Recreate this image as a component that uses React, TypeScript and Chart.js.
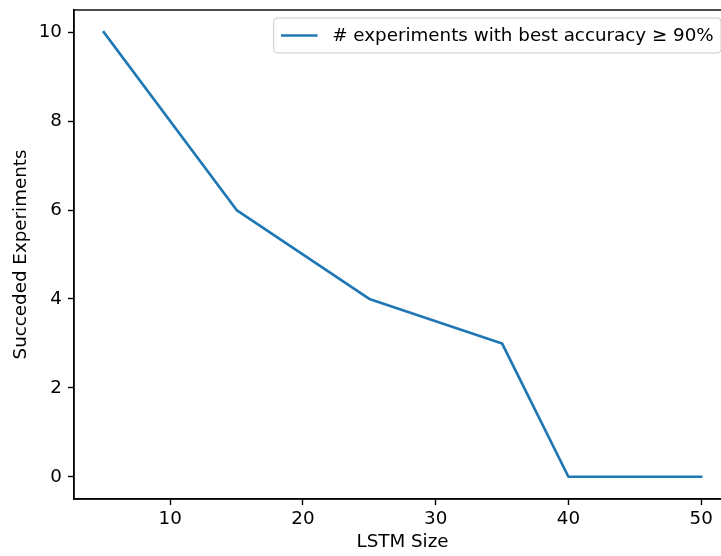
import React, { useEffect, useRef } from "react";
import { Chart, registerables } from "chart.js";

Chart.register(...registerables);

// ---- data ----
const lstmSizes = [5, 15, 25, 35, 40, 50];
const succeeded = [10, 6, 4, 3, 0, 0];
const xTickValues = [10, 20, 30, 40, 50];
const yTickValues = [0, 2, 4, 6, 8, 10];
const seriesLabel = "# experiments with best accuracy \u2265 90%";
const xTitle = "LSTM Size";
const yTitle = "Succeded Experiments";

// ---- style ----
const FONT = "'DejaVu Sans', sans-serif";
const FS = 18.3;
const W = 760;
const H = 556;
const LEFT_W = 74;
const BOTTOM_H = 57;
const PLOT_TOP = 10;
const PLOT_RIGHT = 731;
const LINE_COLOR = "#1f77b4";

const framePlugin = {
  id: "mplFrame",
  afterDraw(chart: any) {
    const { ctx, chartArea: ca } = chart;
    ctx.save();
    ctx.strokeStyle = "#000";
    ctx.lineWidth = 1.4;
    ctx.strokeRect(ca.left, ca.top, ca.right - ca.left, ca.bottom - ca.top);

    // legend (matplotlib style, upper right)
    ctx.font = `${FS}px ${FONT}`;
    const label = chart.data.datasets[0].label as string;
    const tw = ctx.measureText(label).width;
    const pad = 0.4 * FS;
    const handle = 2 * FS;
    const gap = 0.8 * FS;
    const boxW = pad + handle + gap + tw + pad;
    const boxH = 35;
    const right = ca.right - 10;
    const left = right - boxW;
    const top = ca.top + 8;
    const r = 3.6;
    ctx.beginPath();
    ctx.moveTo(left + r, top);
    ctx.lineTo(left + boxW - r, top);
    ctx.arcTo(left + boxW, top, left + boxW, top + r, r);
    ctx.lineTo(left + boxW, top + boxH - r);
    ctx.arcTo(left + boxW, top + boxH, left + boxW - r, top + boxH, r);
    ctx.lineTo(left + r, top + boxH);
    ctx.arcTo(left, top + boxH, left, top + boxH - r, r);
    ctx.lineTo(left, top + r);
    ctx.arcTo(left, top, left + r, top, r);
    ctx.closePath();
    ctx.fillStyle = "rgba(255,255,255,0.8)";
    ctx.fill();
    ctx.strokeStyle = "#cccccc";
    ctx.lineWidth = 1;
    ctx.stroke();

    const cy = top + boxH / 2;
    ctx.beginPath();
    ctx.moveTo(left + pad, cy);
    ctx.lineTo(left + pad + handle, cy);
    ctx.strokeStyle = LINE_COLOR;
    ctx.lineWidth = 2.7;
    ctx.stroke();

    ctx.fillStyle = "#000";
    ctx.textBaseline = "middle";
    ctx.textAlign = "left";
    ctx.fillText(label, left + pad + handle + gap, cy + 1);
    ctx.restore();
  },
};

export default function App() {
  const canvasRef = useRef<HTMLCanvasElement | null>(null);

  useEffect(() => {
    document.body.style.margin = "0";
    document.body.style.overflow = "hidden";
    const canvas = canvasRef.current;
    if (!canvas) return;

    const axisCommon = {
      type: "linear" as const,
      grid: {
        display: true,
        drawOnChartArea: false,
        drawTicks: true,
        tickLength: 6,
        tickWidth: 1.4,
        tickColor: "#000",
      },
      border: { display: true, color: "#000", width: 1.4 },
    };

    const chart = new Chart(canvas, {
      type: "line",
      data: {
        datasets: [
          {
            label: seriesLabel,
            data: lstmSizes.map((x, i) => ({ x, y: succeeded[i] })),
            borderColor: LINE_COLOR,
            backgroundColor: LINE_COLOR,
            borderWidth: 2.7,
            pointRadius: 0,
            tension: 0,
            fill: false,
            borderJoinStyle: "round",
            borderCapStyle: "square",
          },
        ],
      },
      options: {
        responsive: false,
        animation: false,
        devicePixelRatio: 1,
        layout: { padding: { top: PLOT_TOP, right: W - PLOT_RIGHT, left: 0, bottom: 0 } },
        plugins: {
          legend: { display: false },
          tooltip: { enabled: false },
        },
        scales: {
          x: {
            ...axisCommon,
            min: 2.75,
            max: 52.25,
            afterBuildTicks: (s: any) => {
              s.ticks = xTickValues.map((v) => ({ value: v }));
            },
            afterFit: (s: any) => {
              s.height = BOTTOM_H;
              s.paddingLeft = 0;
              s.paddingRight = 0;
            },
            ticks: {
              color: "#000",
              font: { family: FONT, size: FS },
              padding: 3,
              maxRotation: 0,
              autoSkip: false,
            },
            title: {
              display: true,
              text: xTitle,
              color: "#000",
              font: { family: FONT, size: FS, lineHeight: 1.2 },
              padding: { top: 0, bottom: 3 },
            },
          },
          y: {
            ...axisCommon,
            min: -0.5,
            max: 10.5,
            afterBuildTicks: (s: any) => {
              s.ticks = yTickValues.map((v) => ({ value: v }));
            },
            afterFit: (s: any) => {
              s.width = LEFT_W;
              s.paddingTop = 0;
              s.paddingBottom = 0;
            },
            ticks: {
              color: "#000",
              font: { family: FONT, size: FS },
              padding: 6,
              autoSkip: false,
            },
            title: {
              display: true,
              text: yTitle,
              color: "#000",
              font: { family: FONT, size: FS, lineHeight: 1.2 },
              padding: { top: 10, bottom: 0 },
            },
          },
        },
      },
      plugins: [framePlugin],
    } as any);

    return () => chart.destroy();
  }, []);

  return (
    <div
      style={{
        position: "fixed",
        left: 0,
        top: 0,
        width: 721,
        height: 556,
        overflow: "hidden",
        background: "#fff",
      }}
    >
      <canvas ref={canvasRef} width={W} height={H} style={{ display: "block" }} />
    </div>
  );
}
